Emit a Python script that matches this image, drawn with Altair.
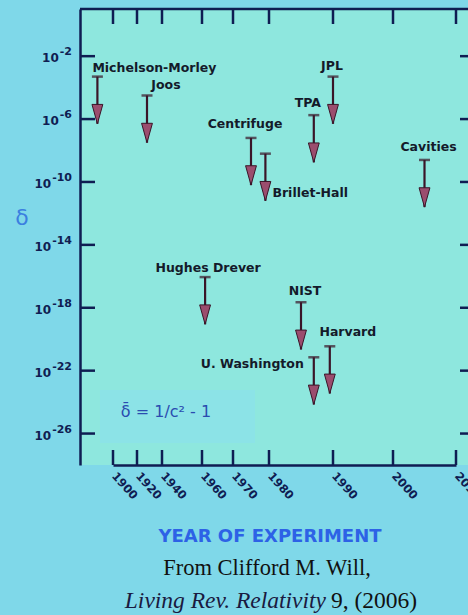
import altair as alt
import pandas as pd

# ---------------- data ----------------
experiments = ["Michelson-Morley", "Joos", "Centrifuge", "Brillet-Hall", "TPA", "JPL",
               "Cavities", "Hughes Drever", "NIST", "Harvard", "U. Washington"]
years = [1887, 1928, 1975, 1979, 1987, 1990, 2005, 1961, 1985, 1989.5, 1987]
limit_exponents = [-3.3, -4.5, -7.2, -8.2, -5.75, -3.3, -8.6, -16.05, -17.65, -20.45, -21.15]

year_ticks = [1900, 1920, 1940, 1960, 1970, 1980, 1990, 2000, 2010]
delta_tick_exponents = [-2, -6, -10, -14, -18, -22, -26]

# ---------------- layout / style ----------------
W, H = 388, 456
year_positions = [33, 57, 82, 122, 153, 189, 253, 313, 376]  # non-linear year axis
ARROW_DECADES = 3
label_align = ["left", "center", "center", "left", "center", "center", "center",
               "center", "center", "center", "right"]
label_dx = [-5, 19, -6, 7, -6, -1, 4, 3, 4, 18, -10]
label_dy = [-9, -10, -14, 39, -12, -11, -13, -9, -11, -14, 7]

NAVY = "#0f1d52"
TEXT = "#141a2a"
OUTER = "#7fd8e9"
INNER = "#8ee7de"
SHAFT = "#3a1528"
HEAD = "#9b4d6e"
LFONT = "DejaVu Sans"

df = pd.DataFrame({
    "experiment": experiments,
    "year": years,
    "limit": [10 ** e for e in limit_exponents],
})
df["tip"] = df["limit"] * 10 ** (-ARROW_DECADES)

x_scale = alt.Scale(type="linear", domain=year_ticks, range=year_positions, nice=False, zero=False)
y_scale = alt.Scale(type="log", domain=[1e-28, 10], nice=False)

Y_AXIS = alt.Axis(
    values=[10 ** e for e in delta_tick_exponents], labels=False,
    orient="left", ticks=False, grid=False, domain=True, domainColor=NAVY, domainWidth=2.5,
    title=None)
X_AXIS = alt.Axis(
    values=year_ticks, format="d", labelAngle=48, labelAlign="left", orient="bottom",
    labelBaseline="middle", labelPadding=9, ticks=False, grid=False,
    domain=True, domainColor=NAVY, domainWidth=2.5, title=None,
    labelFont=LFONT, labelFontWeight="bold", labelFontSize=11.5, labelColor=NAVY,
    labelOverlap=False, labelFlush=False)


def X(field):
    return alt.X(field, type="quantitative", scale=x_scale, axis=X_AXIS)


def Y(field):
    return alt.Y(field, type="quantitative", scale=y_scale, axis=Y_AXIS)


ytick_df = pd.DataFrame({"d": [10 ** e for e in delta_tick_exponents],
                         "exp": [str(e) for e in delta_tick_exponents],
                         "base": ["10"] * len(delta_tick_exponents)})
xtick_df = pd.DataFrame({"yr": year_ticks})
one = pd.DataFrame({"k": [0]})

left_ticks = alt.Chart(ytick_df).mark_rule(color=NAVY, strokeWidth=2.5).encode(
    y=Y("d"), x=alt.value(0), x2=alt.value(15))
right_ticks = alt.Chart(ytick_df).mark_rule(color=NAVY, strokeWidth=2.5).encode(
    y=Y("d"), x=alt.value(W - 8), x2=alt.value(W))
bottom_ticks = alt.Chart(xtick_df).mark_rule(color=NAVY, strokeWidth=2.5).encode(
    x=X("yr"), y=alt.value(H - 15), y2=alt.value(H))
top_ticks = alt.Chart(xtick_df).mark_rule(color=NAVY, strokeWidth=2.5).encode(
    x=X("yr"), y=alt.value(0), y2=alt.value(15))
top_frame = alt.Chart(one).mark_rule(color=NAVY, strokeWidth=2.5).encode(
    x=alt.value(0), x2=alt.value(W), y=alt.value(0))

# y tick labels: "10" with a raised exponent
ylab_exp = alt.Chart(ytick_df).mark_text(
    align="right", baseline="middle", dy=-4, font=LFONT, fontSize=11,
    fontWeight="bold", color=NAVY).encode(y=Y("d"), x=alt.value(-8), text="exp:N")
ylab_base = alt.Chart(ytick_df).transform_calculate(
    bx="-5.8 - 7.7*length(datum.exp)").mark_text(
    align="right", baseline="middle", dy=2, font=LFONT, fontSize=12,
    fontWeight="bold", color=NAVY).encode(
    y=Y("d"), x=alt.X("bx:Q", scale=None, axis=None), text="base:N")

# formula box
box = alt.Chart(one).mark_rect(color="#8ae0ee", opacity=0.55).encode(
    x=alt.value(20), x2=alt.value(175), y=alt.value(381), y2=alt.value(434))
formula = alt.Chart(pd.DataFrame({"t": ["δ̄ = 1/c² - 1"]})).mark_text(
    font=LFONT, fontSize=16, color="#2a4cb0", align="center", baseline="middle").encode(
    x=alt.value(86), y=alt.value(403), text="t:N")

# arrows
shaft = alt.Chart(df).mark_rule(color=SHAFT, strokeWidth=2.2).encode(
    x=X("year"), y=Y("limit"), y2="tip:Q")
tbar = alt.Chart(df).mark_tick(orient="horizontal", color=SHAFT, size=11, thickness=2.5).encode(
    x=X("year"), y=Y("limit"))
head = alt.Chart(df).mark_point(shape="M-0.28,-1L0.28,-1L0,0Z", size=1500, filled=True,
                                fill=HEAD, stroke=SHAFT, strokeWidth=1, opacity=1).encode(
    x=X("year"), y=Y("tip"))

labels = []
for name, al, dx, dy in zip(experiments, label_align, label_dx, label_dy):
    labels.append(alt.Chart(df).transform_filter(alt.datum.experiment == name).mark_text(
        align=al, baseline="middle", dx=dx, dy=dy, font=LFONT, fontSize=12.5,
        fontWeight="bold", color=TEXT).encode(
        x=X("year"), y=Y("limit"), text="experiment:N"))


# titles and credits
def txt(s, x, y, **kw):
    return alt.Chart(pd.DataFrame({"t": [s]})).mark_text(baseline="middle", **kw).encode(
        x=alt.value(x), y=alt.value(y), text="t:N")


xtitle = txt("YEAR OF EXPERIMENT", 190, 528, font=LFONT, fontSize=18, fontWeight="bold",
             color="#2d62e6", align="center")
ytitle = txt("δ", -58, 209, font=LFONT, fontSize=22, color="#3b7fe0", align="center")
credit1 = txt("From Clifford M. Will,", 187, 559, font="Liberation Serif", fontSize=22.5,
              color="#111111", align="center")
credit2a = txt("Living Rev. Relativity", 246, 592, font="Liberation Serif", fontSize=23.5,
               fontStyle="italic", color="#1a1a40", align="right")
credit2b = txt("9,  (2006)", 251, 592, font="Liberation Serif", fontSize=23.5,
               color="#111111", align="left")

chart = alt.layer(
    box, formula, top_frame, left_ticks, right_ticks, bottom_ticks, top_ticks,
    ylab_exp, ylab_base,
    shaft, head, tbar, *labels, xtitle, ytitle, credit1, credit2a, credit2b
).properties(
    width=W, height=H, background=OUTER,
    padding={"left": 80, "top": 9, "right": 0, "bottom": 150},
    autosize=alt.AutoSizeParams(type="none"),
).configure_view(fill=INNER, stroke=None)

chart.save("out.html", embed_options={"renderer": "svg", "actions": False})
